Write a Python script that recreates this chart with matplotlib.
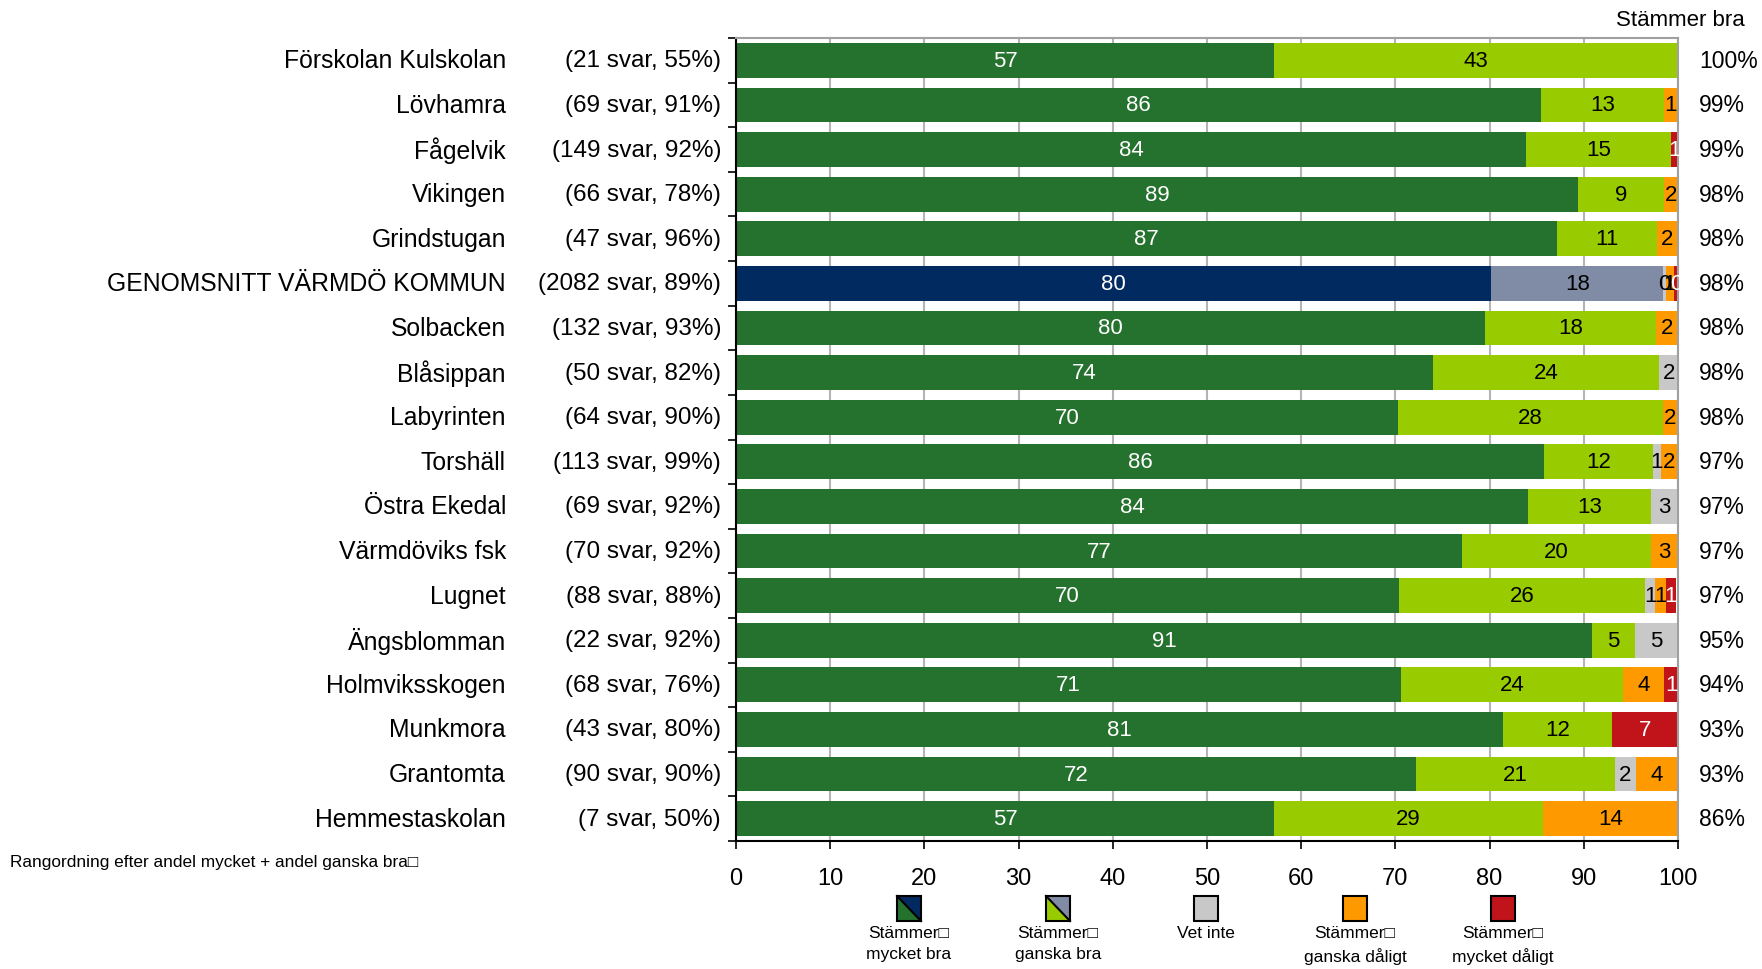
import matplotlib
matplotlib.use("Agg")
import matplotlib.pyplot as plt
from matplotlib.patches import Polygon, Rectangle
import numpy as np

plt.rcParams['font.family'] = ['Liberation Sans', 'DejaVu Sans']

# data, top row first
names = ["Förskolan Kulskolan", "Lövhamra", "Fågelvik", "Vikingen", "Grindstugan",
         "GENOMSNITT VÄRMDÖ KOMMUN", "Solbacken", "Blåsippan", "Labyrinten", "Torshäll",
         "Östra Ekedal", "Värmdöviks fsk", "Lugnet", "Ängsblomman", "Holmviksskogen",
         "Munkmora", "Grantomta", "Hemmestaskolan"]
svar = [21, 69, 149, 66, 47, 2082, 132, 50, 64, 113, 69, 70, 88, 22, 68, 43, 90, 7]
svarsfrekvens = [55, 91, 92, 78, 96, 89, 93, 82, 90, 99, 92, 92, 88, 92, 76, 80, 90, 50]
mycket_bra = [57.1, 85.5, 83.9, 89.4, 87.2, 80.2, 79.5, 74.0, 70.3, 85.8, 84.1, 77.1, 70.4, 90.9, 70.6, 81.4, 72.2, 57.1]
ganska_bra = [42.9, 13.0, 15.4, 9.1, 10.6, 18.2, 18.2, 24.0, 28.1, 11.5, 13.0, 20.0, 26.1, 4.55, 23.53, 11.6, 21.1, 28.6]
vet_inte = [0, 0, 0, 0, 0, 0.3, 0, 2.0, 0, 0.9, 2.9, 0, 1.1, 4.55, 0, 0, 2.2, 0]
ganska_daligt = [0, 1.45, 0, 1.5, 2.1, 0.9, 2.3, 0, 1.6, 1.8, 0, 2.9, 1.1, 0, 4.41, 0, 4.4, 14.3]
mycket_daligt = [0, 0, 0.7, 0, 0, 0.4, 0, 0, 0, 0, 0, 0, 1.1, 0, 1.47, 7.0, 0, 0]
stammer_bra = [100, 99, 99, 98, 98, 98, 98, 98, 98, 97, 97, 97, 97, 95, 94, 93, 93, 86]
avg_row = "GENOMSNITT VÄRMDÖ KOMMUN"

series = [mycket_bra, ganska_bra, vet_inte, ganska_daligt, mycket_daligt]
colors = ["#25722e", "#99cc00", "#c8c8c8", "#ff9900", "#c0141a"]
avg_colors = ["#002a60", "#808ba6", "#c8c8c8", "#ff9900", "#c0141a"]
text_colors = ["white", "black", "black", "black", "white"]
legend_labels = ["Stämmer\u25a1\nmycket bra", "Stämmer\u25a1\nganska bra", "Vet inte",
                 "Stämmer\u25a1\nganska dåligt", "Stämmer\u25a1\nmycket dåligt"]

fig = plt.figure(figsize=(17.62, 9.70), dpi=100)
ax = fig.add_axes([736/1762, 1-842/970, 942/1762, 803/970])

n = len(names)
y = np.arange(n)
left = np.zeros(n)
for k, vals in enumerate(series):
    vals = np.array(vals, dtype=float)
    cols = [avg_colors[k] if nm == avg_row else colors[k] for nm in names]
    ax.barh(y, vals, left=left, height=0.78, color=cols, zorder=2)
    for i in range(n):
        if vals[i] > 0:
            ax.text(left[i] + vals[i]/2, y[i], f"{vals[i]:.0f}", ha="center", va="center",
                    color=text_colors[k], fontsize=16, zorder=3)
    left += vals

ax.set_xlim(0, 100)
ax.set_ylim(n - 0.5, -0.5)
ax.set_xticks(np.arange(0, 101, 10))
ax.tick_params(axis="x", labelsize=17, length=6, width=1.2, direction="out", pad=13)
ax.set_yticks(np.arange(-0.5, n, 1))
ax.set_yticklabels([])
ax.tick_params(axis="y", length=6, width=1.2, direction="out")
ax.grid(axis="x", color="#b4b4b4", linewidth=1.5, zorder=0)
ax.set_axisbelow(True)
for s in ["left", "bottom"]:
    ax.spines[s].set_color("black")
    ax.spines[s].set_linewidth(1.5)
for s in ["top", "right"]:
    ax.spines[s].set_color("#a0a0a0")
    ax.spines[s].set_linewidth(1.5)

tr = ax.get_yaxis_transform()
for i in range(n):
    ax.text(-0.2442, y[i], names[i], transform=tr, ha="right", va="center", fontsize=17.8)
    ax.text(-0.0159, y[i], f"({svar[i]} svar, {svarsfrekvens[i]}%)", transform=tr,
            ha="right", va="center", fontsize=17.5)
    ax.text(1.0223, y[i], f"{stammer_bra[i]}%", transform=tr, ha="left", va="center",
            fontsize=16.5)

fig.text(1680/1762, 1-20/970, "Stämmer bra", ha="center", va="center", fontsize=16)
fig.text(10/1762, 1-863/970, "Rangordning efter andel mycket + andel ganska bra\u25a1",
         ha="left", va="center", fontsize=12.4)

# legend
W, H = 1762, 970
bw, bh = 24, 25
for k, xc in enumerate([909, 1058, 1206, 1355, 1503]):
    x0, x1 = (xc - bw/2)/W, (xc + bw/2)/W
    y0, y1 = 1 - 922/H, 1 - 897/H
    if k < 2:
        fig.add_artist(Polygon([(x0, y1), (x0, y0), (x1, y0)], closed=True,
                               facecolor=colors[k], edgecolor="none", transform=fig.transFigure))
        fig.add_artist(Polygon([(x0, y1), (x1, y1), (x1, y0)], closed=True,
                               facecolor=avg_colors[k], edgecolor="none", transform=fig.transFigure))
        fig.add_artist(plt.Line2D([x0, x1], [y1, y0], color="black", linewidth=1.5,
                                  transform=fig.transFigure))
    fig.add_artist(Rectangle((x0, y0), x1 - x0, y1 - y0, facecolor="none" if k < 2 else colors[k],
                             edgecolor="black", linewidth=1.5, transform=fig.transFigure))
    fig.text(xc/W, 1 - 926/H, legend_labels[k], ha="center", va="top", fontsize=12.5,
             linespacing=1.5)

fig.savefig("out.png", dpi=100)
